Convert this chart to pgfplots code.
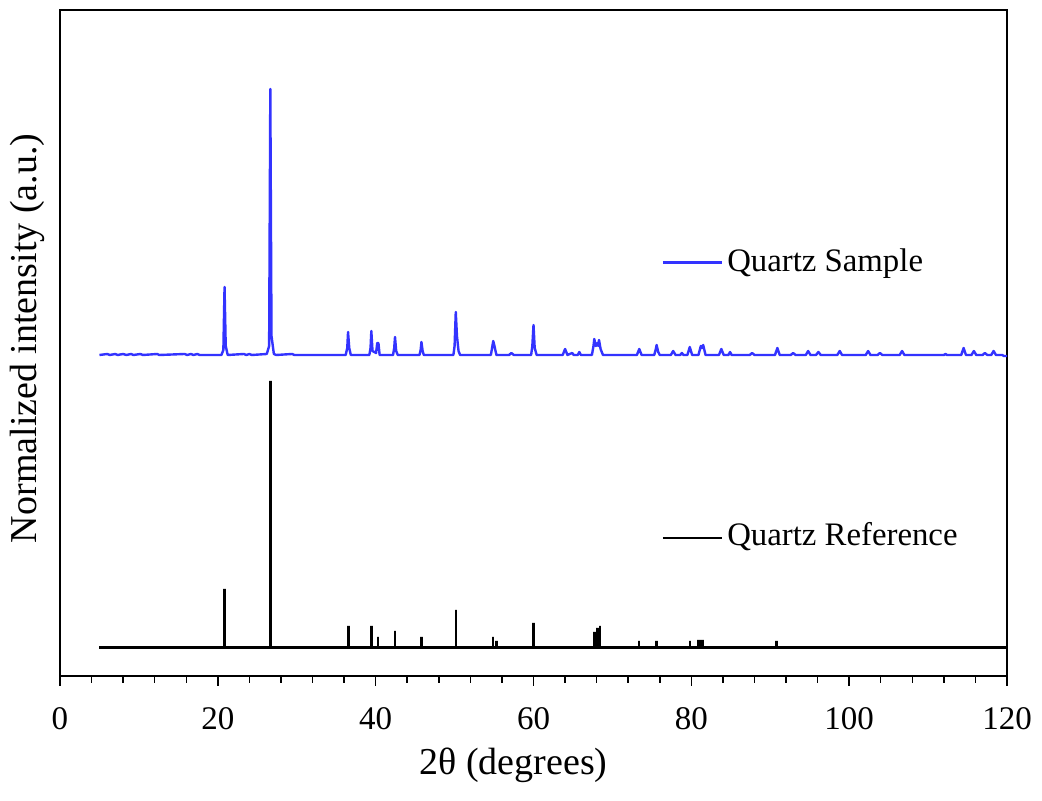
\documentclass[border=0pt]{standalone}
\usepackage{fontspec}
\setmainfont{Liberation Serif}
\usepackage{pgfplots}
\pgfplotsset{compat=1.18}

\definecolor{sampleblue}{RGB}{51,51,255}

\begin{document}
\begin{tikzpicture}
% page frame, matches the 1042x801 reference (1 px = 0.5 pt)
\useasboundingbox (-30pt,-62.5pt) rectangle (491pt,338pt);
\begin{axis}[
    at={(0,0)}, anchor=south west,
    scale only axis,
    width=473.5pt, height=333pt,
    xmin=0, xmax=120, ymin=0, ymax=666,
    xtick={0,20,...,120},
    minor x tick num=4,
    ytick=\empty,
    xtick pos=bottom,
    tick align=outside,
    major tick length=5pt,
    minor tick length=3.5pt,
    every tick/.style={black, line width=0.75pt},
    every minor tick/.style={black, line width=0.75pt},
    axis line style={line width=0.75pt},
    /pgf/number format/assume math mode=true,
    tick label style={font=\fontsize{16.5}{19}\selectfont},
    xticklabel style={yshift=-7pt},
    label style={font=\fontsize{19}{22}\selectfont},
    xlabel={2θ (degrees)},
    ylabel={Normalized intensity (a.u.)},
    xlabel style={at={(axis description cs:0.479,-0.1486)}, anchor=base},
    ylabel style={at={(axis description cs:-0.0243,0.507)}, anchor=base},
    clip=false,
]
% measured sample pattern
\addplot[sampleblue, line width=1.2pt, line join=round] coordinates {
 (5,321) (6,322) (6.3,321) (7,322) (7.3,321) (8,322) (8.4,321) (9,322) (9.3,321)
 (10.2,322) (10.5,321) (12.3,322) (12.6,321) (15.8,322) (16.1,321) (16.6,322) (16.9,321)
 (17.4,322) (17.7,321)
 (20.45,321) (20.7,326) (20.85,389) (21.0,330) (21.25,321)
 (23.3,322) (23.6,321) (24,322) (24.3,321)
 (26.2,322) (26.5,330) (26.65,587) (26.8,340) (27.1,322) (27.4,321)
 (29.4,322) (29.7,321)
 (36.2,321) (36.4,328) (36.5,344) (36.65,328) (36.85,321)
 (39.2,321) (39.35,328) (39.45,345) (39.6,325) (40.05,323) (40.2,333) (40.35,333) (40.5,321)
 (42.2,321) (42.35,328) (42.45,339) (42.6,325) (42.8,321)
 (45.55,321) (45.7,326) (45.8,334) (45.95,325) (46.1,321)
 (49.85,321) (50.0,330) (50.15,364) (50.3,340) (50.5,325) (50.7,321)
 (54.6,321) (54.75,328) (54.9,335) (55.05,330) (55.3,321)
 (56.9,321) (57.2,323) (57.5,321)
 (59.7,321) (59.85,330) (60.0,351) (60.15,328) (60.4,321)
 (63.7,321) (64.0,327) (64.3,321) (64.9,323) (65.1,321) (65.6,321) (65.8,324) (66.0,321)
 (67.4,321) (67.6,330) (67.7,337) (67.9,330) (68.1,333) (68.2,330) (68.3,336) (68.5,327) (68.8,321)
 (73.1,321) (73.4,327) (73.7,321)
 (75.3,321) (75.5,327) (75.6,331) (75.8,324) (76.0,321)
 (77.4,321) (77.7,325) (78.0,321) (78.6,321) (78.8,323) (79.0,321)
 (79.5,321) (79.8,329) (80.1,321)
 (80.9,321) (81.2,330) (81.35,328) (81.5,331) (81.8,321)
 (83.5,321) (83.8,327) (84.1,321) (84.7,321) (84.9,324) (85.1,321)
 (87.4,321) (87.7,323) (88.0,321)
 (90.6,321) (90.9,328) (91.2,321) (92.6,321) (92.9,323) (93.2,321)
 (94.5,321) (94.8,325) (95.1,321) (95.8,321) (96.1,324) (96.4,321)
 (98.5,321) (98.8,325) (99.1,321)
 (102.1,321) (102.4,325) (102.7,321) (103.6,321) (103.9,323) (104.2,321)
 (106.4,321) (106.7,325) (107.0,321)
 (112.0,321) (112.2,322) (112.4,321)
 (114.2,321) (114.5,328) (114.8,321) (115.5,321) (115.8,325) (116.1,321)
 (116.9,321) (117.2,323) (117.5,321) (118.0,321) (118.3,325) (118.6,321)
 (119.4,321) (119.6,320) (120,320)
};
% reference stick pattern
\addplot[black, line width=1.2pt] coordinates {
 (5,28.3)
 (20.85,28.3) (20.85,87) (20.85,28.3)
 (26.65,28.3) (26.65,295) (26.65,28.3)
 (36.55,28.3) (36.55,50) (36.55,28.3)
 (39.45,28.3) (39.45,50) (39.45,28.3)
 (40.3,28.3) (40.3,39) (40.3,28.3)
 (42.45,28.3) (42.45,45) (42.45,28.3)
 (45.8,28.3) (45.8,39) (45.8,28.3)
 (50.15,28.3) (50.15,66) (50.15,28.3)
 (54.9,28.3) (54.9,39) (54.9,28.3)
 (55.3,28.3) (55.3,35) (55.3,28.3)
 (60.0,28.3) (60.0,53) (60.0,28.3)
 (67.75,28.3) (67.75,44) (67.75,28.3)
 (68.1,28.3) (68.1,48) (68.1,28.3)
 (68.4,28.3) (68.4,50) (68.4,28.3)
 (73.4,28.3) (73.4,35) (73.4,28.3)
 (75.6,28.3) (75.6,35) (75.6,28.3)
 (79.8,28.3) (79.8,35) (79.8,28.3)
 (80.9,28.3) (80.9,36) (80.9,28.3)
 (81.2,28.3) (81.2,36) (81.2,28.3)
 (81.5,28.3) (81.5,36) (81.5,28.3)
 (90.8,28.3) (90.8,35) (90.8,28.3)
 (120,28.3)
};
% legend entries
\addplot[sampleblue, line width=1.2pt] coordinates {(76.4,413.3) (83.9,413.3)};
\addplot[black, line width=1.2pt] coordinates {(76.4,137.7) (83.9,137.7)};
\node[anchor=base west, inner sep=0pt, font=\fontsize{16.4}{19}\selectfont]
  at (axis cs:84.5,404) {Quartz Sample};
\node[anchor=base west, inner sep=0pt, font=\fontsize{16.4}{19}\selectfont]
  at (axis cs:84.5,130.3) {Quartz Reference};
\end{axis}
\end{tikzpicture}
\end{document}
